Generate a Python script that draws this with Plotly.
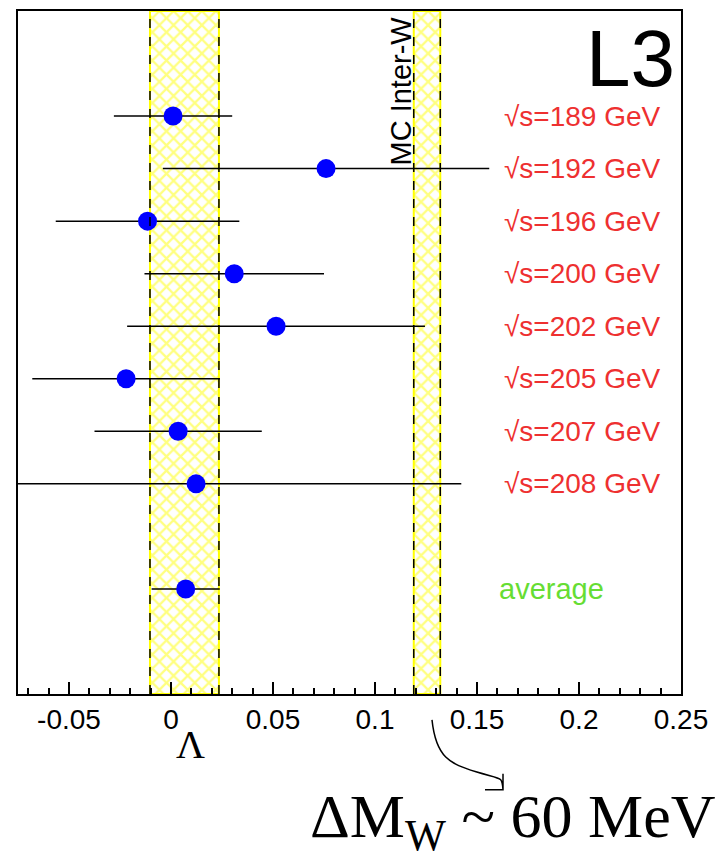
import plotly.graph_objects as go

# ---- data ----
energies = ["189", "192", "196", "200", "202", "205", "207", "208"]
row_pos = [1, 2, 3, 4, 5, 6, 7, 8]
lam_vals = [0.001, 0.076, -0.0115, 0.031, 0.0515, -0.022, 0.0035, 0.0123]
lam_errs = [0.029, 0.080, 0.045, 0.044, 0.073, 0.046, 0.041, 0.130]
avg_pos = [10]
avg_val = [0.0072]
avg_err = [0.0167]
band_lo = [-0.0103, 0.119]
band_hi = [0.0235, 0.132]
tick_vals = [-0.05, 0, 0.05, 0.1, 0.15, 0.2, 0.25]
tick_text = ["-0.05", "0", "0.05", "0.1", "0.15", "0.2", "0.25"]

W, H = 723, 861
ML, MR, MT, MB = 18, 42, 9, 167
PW, PH = W - ML - MR, H - MT - MB


def px(xp):
    return (xp - ML) / PW


def py(yp):
    return (H - MB - yp) / PH


fig = go.Figure()

# hatched bands
centers = [(a + b) / 2 for a, b in zip(band_lo, band_hi)]
widths = [b - a for a, b in zip(band_lo, band_hi)]
fig.add_trace(go.Bar(
    x=centers, y=[13, 13], base=[-1, -1], width=widths,
    marker=dict(color="white", line=dict(color="#ffff00", width=2),
                pattern=dict(shape="x", fgcolor="#ffff00", bgcolor="white",
                             size=10, solidity=0.4)),
    showlegend=False, hoverinfo="skip"))

for e in band_lo + band_hi:
    fig.add_shape(type="line", xref="x", yref="paper", x0=e, x1=e, y0=0, y1=1,
                  line=dict(color="black", width=1.5, dash="dash"))

# measurements
fig.add_trace(go.Scatter(
    x=lam_vals, y=row_pos, mode="markers",
    marker=dict(color="#0000ff", size=19, line=dict(width=0)),
    error_x=dict(type="data", array=lam_errs, color="black", thickness=1.5, width=0),
    showlegend=False))
fig.add_trace(go.Scatter(
    x=avg_val, y=avg_pos, mode="markers",
    marker=dict(color="#0000ff", size=19, line=dict(width=0)),
    error_x=dict(type="data", array=avg_err, color="black", thickness=1.5, width=0),
    showlegend=False))

# labels
for e, r in zip(energies, row_pos):
    fig.add_annotation(x=0.2412, y=r, xref="x", yref="y", text="√s=%s GeV" % e,
                       showarrow=False, xanchor="right", yanchor="middle",
                       font=dict(family="Liberation Sans", size=28, color="#ee3030"))
fig.add_annotation(x=0.160, y=avg_pos[0], xref="x", yref="y", text="average",
                   showarrow=False, xanchor="left", yanchor="middle",
                   font=dict(family="Liberation Sans", size=29, color="#66dd33"))

fig.add_annotation(x=px(677), y=py(10), xref="paper", yref="paper", text="L3",
                   showarrow=False, xanchor="right", yanchor="top",
                   font=dict(family="Liberation Sans", size=80, color="black"))

fig.add_annotation(x=px(401), y=py(12), xref="paper", yref="paper", text="MC Inter-W",
                   textangle=-90, showarrow=False, xanchor="center", yanchor="top",
                   font=dict(family="Liberation Sans", size=29, color="black"))

fig.add_annotation(x=px(190), y=py(745), xref="paper", yref="paper", text="Λ",
                   showarrow=False, xanchor="center", yanchor="middle",
                   font=dict(family="Liberation Serif", size=40, color="black"))

fig.add_annotation(x=px(308), y=py(861), xref="paper", yref="paper",
                   text="ΔM<sub>W</sub> ~ 60 MeV",
                   showarrow=False, xanchor="left", yanchor="bottom",
                   font=dict(family="Liberation Serif", size=62, color="black"))

# curved arrow (decoration)
path = ("M {},{} C {},{} {},{} {},{} S {},{} {},{} M {},{} L {},{} L {},{}").format(
    px(432), py(720), px(436), py(758), px(450), py(764), px(476), py(772),
    px(502), py(776), px(503), py(790),
    px(503), py(774), px(503), py(790), px(485), py(790))
fig.add_shape(type="path", xref="paper", yref="paper", path=path,
              line=dict(color="black", width=1.5))

fig.update_layout(
    width=W, height=H, margin=dict(l=ML, r=MR, t=MT, b=MB),
    paper_bgcolor="white", plot_bgcolor="white", barmode="overlay",
    showlegend=False,
    xaxis=dict(range=[-0.075, 0.25], tickvals=tick_vals, ticktext=tick_text,
               ticks="inside", ticklen=12, tickwidth=1.5, tickcolor="black",
               minor=dict(ticks="inside", dtick=0.01, ticklen=6, tickwidth=1.5, tickcolor="black"),
               showline=True, mirror=True, linecolor="black", linewidth=1.5,
               showgrid=False, zeroline=False,
               tickfont=dict(family="Liberation Sans", size=28, color="black")),
    yaxis=dict(range=[12, -1], showticklabels=False, ticks="", showgrid=False,
               zeroline=False, showline=True, mirror=True, linecolor="black",
               linewidth=1.5),
)

fig.write_html("out.html")
